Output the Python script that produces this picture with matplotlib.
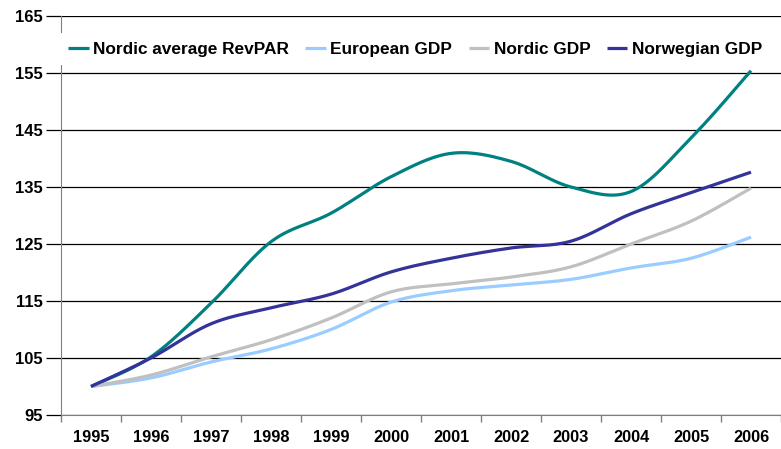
import numpy as np
import matplotlib
matplotlib.use('Agg')
import matplotlib.pyplot as plt

years = ['1995', '1996', '1997', '1998', '1999', '2000', '2001', '2002', '2003', '2004', '2005', '2006']

nordic_revpar = [100, 105.2, 114.6, 125.4, 130.4, 136.8, 140.9, 139.5, 135.0, 134.2, 143.6, 155.4]
european_gdp = [100, 101.5, 104.3, 106.6, 110.0, 114.8, 116.8, 117.8, 118.8, 120.8, 122.5, 126.2]
nordic_gdp = [100, 102.0, 105.2, 108.2, 112.0, 116.6, 118.0, 119.2, 121.0, 125.0, 129.0, 134.8]
norwegian_gdp = [100, 105.0, 111.0, 113.8, 116.2, 120.1, 122.5, 124.3, 125.5, 130.3, 134.0, 137.6]

series = [
    ('Nordic average RevPAR', nordic_revpar, '#008080'),
    ('European GDP', european_gdp, '#99CCFF'),
    ('Nordic GDP', nordic_gdp, '#C0C0C0'),
    ('Norwegian GDP', norwegian_gdp, '#333399'),
]


def smooth(y, n=30):
    # Catmull-Rom style curve through the points, like Excel's smoothed line
    y = np.asarray(y, dtype=float)
    x = np.arange(len(y), dtype=float)
    px = np.concatenate([[x[0]], x, [x[-1]]])
    py = np.concatenate([[y[0]], y, [y[-1]]])
    xs, ys = [], []
    for i in range(1, len(px) - 2):
        t = np.linspace(0, 1, n, endpoint=False)
        p0, p1, p2, p3 = py[i - 1], py[i], py[i + 1], py[i + 2]
        q0, q1, q2, q3 = px[i - 1], px[i], px[i + 1], px[i + 2]
        f = lambda a, b, c, d: 0.5 * (2 * b + (-a + c) * t + (2 * a - 5 * b + 4 * c - d) * t ** 2
                                      + (-a + 3 * b - 3 * c + d) * t ** 3)
        xs.append(f(q0, q1, q2, q3))
        ys.append(f(p0, p1, p2, p3))
    xs.append([x[-1]])
    ys.append([y[-1]])
    return np.concatenate(xs), np.concatenate(ys)


plt.rcParams['font.family'] = ['Liberation Sans', 'DejaVu Sans']
plt.rcParams['font.weight'] = 'bold'

fig = plt.figure(figsize=(7.81, 4.49), dpi=100)
ax = fig.add_axes([61 / 781, 34 / 449, 720 / 781, 399 / 449])

for name, vals, col in series:
    sx, sy = smooth(vals)
    ax.plot(sx, sy, color=col, lw=2.3, label=name, solid_capstyle='butt', zorder=3)

ax.set_xlim(-0.5, len(years) - 0.5)
ax.set_ylim(95, 165)
ax.set_yticks(np.arange(95, 166, 10))
ax.yaxis.grid(True, color='black', lw=0.9)
ax.set_axisbelow(True)

ax.set_xticks(np.arange(-0.5, len(years), 1.0))
ax.set_xticklabels([])
ax.set_xticks(np.arange(len(years)), minor=True)
ax.set_xticklabels(years, minor=True, fontsize=11.8, fontweight='bold')
ax.tick_params(axis='x', which='major', length=5, color='#808080', width=1)
ax.tick_params(axis='x', which='minor', length=0, pad=11)
ax.tick_params(axis='y', length=11, color='black', width=0.9, pad=2, labelsize=12)
for lab in ax.get_yticklabels():
    lab.set_fontweight('bold')

for s in ['top', 'right']:
    ax.spines[s].set_visible(False)
ax.spines['left'].set_color('#808080')
ax.spines['bottom'].set_color('#808080')

leg = ax.legend(loc='center left', bbox_to_anchor=(-0.002, 0.917), ncol=4, frameon=True,
                fancybox=False, edgecolor='none', facecolor='white', framealpha=1,
                prop={'size': 12.4, 'weight': 'bold'}, handlelength=1.2, handletextpad=0.25,
                columnspacing=0.95, borderpad=0.5, borderaxespad=0)
leg.set_zorder(10)
leg.get_frame().set_linewidth(0)

fig.savefig('out.png', dpi=100)
